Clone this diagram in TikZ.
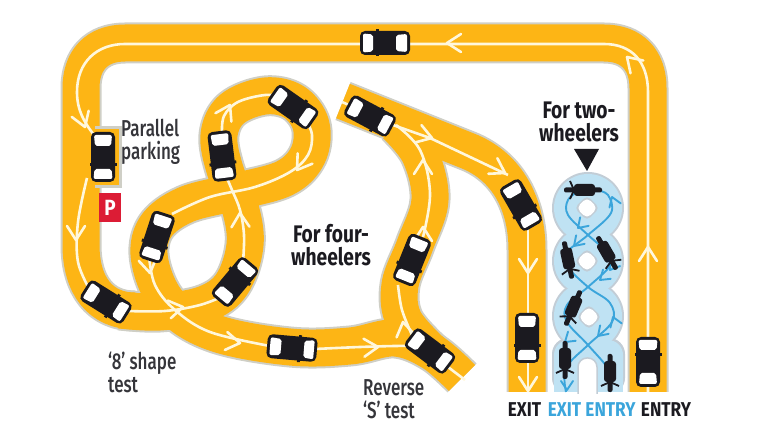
\documentclass[tikz,border=0pt]{standalone}
\usepackage{fontspec}
\usepackage{xcolor}
\setmainfont{Fira Sans}
\newfontfamily\labelfont[FakeStretch=0.74]{Fira Sans Medium}
\newfontfamily\headfont[FakeStretch=0.8,BoldFont={Fira Sans Bold}]{Fira Sans}
\newfontfamily\gatefont[FakeStretch=0.86,BoldFont={Fira Sans Bold}]{Fira Sans}
\definecolor{roadyellow}{HTML}{FDB515}
\definecolor{roadedge}{HTML}{CFCFC6}
\definecolor{laneline}{HTML}{FFF7DC}
\definecolor{bikefill}{HTML}{BFE2F3}
\definecolor{bikeedge}{HTML}{C2CDD6}
\definecolor{bikeline}{HTML}{3BA5DB}
\definecolor{carblack}{HTML}{1B1A20}
\definecolor{inkgray}{HTML}{35353A}
\definecolor{signred}{HTML}{DC1C35}
\tikzset{
	lane/.style={draw=laneline,line width=2.6pt,line join=round},
	bluelane/.style={draw=bikeline,line width=1.9pt,line join=round},
	caption/.style={inkgray,font=\labelfont\fontsize{23}{23}\selectfont,align=left,inner sep=0pt,anchor=north west},
	bighead/.style={carblack,font=\headfont\bfseries\fontsize{24}{23}\selectfont,align=center,inner sep=0pt},
	gatelabel/.style={font=\gatefont\bfseries\fontsize{20}{20}\selectfont,inner sep=0pt},
	chev/.pic={\draw[lane,line cap=round] (-14,-9) -- (0,0) -- (-14,9);},
	bluechev/.pic={\draw[bluelane,line cap=round] (-9,-6) -- (0,0) -- (-9,6);},
	car/.pic={
		\fill[carblack,rounded corners=5pt] (-25,-12) rectangle (25,12);
		\fill[carblack] (6,-13.5) rectangle (9,13.5);
		\fill[white,rounded corners=2pt] (-22,-9) -- (-11,-8) -- (-11,8) -- (-22,9) -- cycle;
		\fill[white,rounded corners=2pt] (12,-8.5) -- (22,-9.5) -- (22,9.5) -- (12,8.5) -- cycle;
	},
	bike/.pic={
		\fill[carblack,rounded corners=2pt] (-19,-2.5) rectangle (19,2.5);
		\fill[carblack,rounded corners=3pt] (-12,-6) rectangle (9,6);
		\draw[carblack,line width=1.8pt] (13,-9) -- (9,0) -- (13,9);
	}
}

\begin{document}
\begin{tikzpicture}[x=1pt,y=-1pt]
	\useasboundingbox (0,0) rectangle (764,435);

	% roads, edge colour first and yellow over it
	\foreach \wd/\col in {41/roadedge,37/roadyellow}{
		\draw[\col,line width=\wd pt,line join=round] (648,392) -- (648,88) .. controls (648,60) and (632,43) .. (604,43) -- (125,43) .. controls (97,43) and (81,60) .. (81,88) -- (81,245) .. controls (81,285) and (100,311) .. (135,311);
		\draw[\col,line width=\wd pt,line join=round] plot[smooth,tension=.6] coordinates {(120,310) (160,312) (205,304) (232,284) (245,245) (240,207) (225,170) (219,135) (232,109) (265,96) (294,102) (311,125) (308,155) (285,178) (235,192) (185,205) (155,228) (150,262) (170,305) (215,333) (290,347) (350,346) (395,338) (432,352) (462,378)};
		\draw[\col,line width=\wd pt,line join=round] (343,101) -- (468,151) .. controls (508,167) and (527,205) .. (527,250) -- (527,392);
		\draw[\col,line width=\wd pt,line join=round] plot[smooth,tension=.6] coordinates {(396,125) (420,155) (430,200) (415,245) (400,285) (404,320) (432,352)};
	}
	% parking bay
	\fill[roadedge] (90,126) rectangle (122,188);
	\fill[roadyellow] (90,129) rectangle (119,185);
	\fill[roadyellow] (63,120) rectangle (95,200);

	% white lane lines
	\draw[lane] (648,392) -- (648,92) .. controls (648,62) and (632,44) .. (604,44) -- (125,44) .. controls (97,44) and (77,62) .. (77,92) .. controls (77,110) and (84,122) .. (94,135);
	\draw[lane] plot[smooth,tension=.6] coordinates {(87,178) (78,222) (78,262) (91,292)};
	\draw[lane] plot[smooth,tension=.6] coordinates {(128,311) (165,311) (200,305) (226,295)};
	\draw[lane] plot[smooth,tension=.6] coordinates {(243,262) (244,235) (240,210) (232,190) (226,176)};
	\draw[lane] plot[smooth,tension=.6] coordinates {(222,134) (224,116) (238,102) (265,95) (282,97)};
	\draw[lane] plot[smooth,tension=.6] coordinates {(306,120) (312,135) (308,155) (290,172) (255,187) (210,197) (172,214)};
	\draw[lane] plot[smooth,tension=.6] coordinates {(149,256) (155,285) (175,310) (210,332) (270,346)};
	\draw[lane] plot[smooth,tension=.6] coordinates {(315,349) (360,347) (395,346) (412,346)};
	\draw[lane] (448,367) -- (465,380);
	\draw[lane] plot[smooth,tension=.6] coordinates {(412,335) (402,310) (398,285)};
	\draw[lane] plot[smooth,tension=.6] coordinates {(423,237) (430,193) (420,150) (396,125)};
	\draw[lane] (393,125) -- (430,138) -- (508,175);
	\draw[lane] (342,102) -- (356,108);
	\draw[lane] (528,225) -- (528,392);

	\foreach \x/\y/\a in {447/43/180,627/57/135,648/247/90,85/127/-70,76/240/-90,183/307/10,240/213/92,230/105/62,297/170/-125,150/273/-80,240/343/-8,378/347/3,403/322/100,423/227/90,423/160/90,432/138/-18,505/173/-30,528/273/-90,528/391/-90}
		\pic[rotate=\a] at (\x,\y) {chev};

	% two wheeler track
	\fill[bikeedge,rounded corners=16pt] (552,394) -- (552,338) -- (625,338) -- (625,394) -- cycle;
	\foreach \cy in {208,261,316}
		\fill[bikeedge] (588,\cy) circle (36);
	\fill[white] (550,392) rectangle (627,396);
	\fill[bikefill,rounded corners=15pt] (554,392) -- (554,340) -- (623,340) -- (623,392) -- cycle;
	\fill[bikefill] (554,375) rectangle (623,392);
	\foreach \cy in {208,261,316}
		\fill[bikefill] (588,\cy) circle (34);
	\draw[bikeedge,fill=white,line width=1.5pt,rounded corners=9pt] (578,394) -- (578,358) -- (597,358) -- (597,394);
	\foreach \cx/\cy in {587/208,587/261,589/317}{
		\fill[bikeedge,rotate around={45:(\cx,\cy)},rounded corners=5pt] (\cx-9,\cy-9) rectangle (\cx+9,\cy+9);
		\fill[white,rotate around={45:(\cx,\cy)},rounded corners=5pt] (\cx-7.5,\cy-7.5) rectangle (\cx+7.5,\cy+7.5);
	}
	\draw[bluelane] plot[smooth,tension=.6] coordinates {(610,392) (610,372) (588,345) (567,322) (567,305) (588,287) (610,266) (609,254) (588,235) (568,215) (568,200) (580,190)};
	\draw[bluelane] plot[smooth,tension=.6] coordinates {(566,392) (566,368) (588,345) (612,322) (610,303) (588,287) (566,265) (567,252) (588,235) (611,213) (608,195) (596,190)};
	\foreach \x/\y/\a in {567/390/-90,612/197/110,578/228/-135,574/246/-135,610/270/-125,600/280/-140,613/317/110,598/336/-135,565/342/-140}
		\pic[rotate=\a] at (\x,\y) {bluechev};
	\foreach \x/\y/\a in {583/190/180,568/260/-78,607/253/-60,573/308/-113,565/360/-90,610/373/-90}
		\pic[rotate=\a] at (\x,\y) {bike};

	% cars
	\foreach \x/\y/\a in {385/43/180,103/157/-90,106/302/-32,235/282/50,222/156/-83,293/107/-35,157/237/-108,292/348/-5,370/116/-28,412/260/-112,430/351/-37,521/205/-60,527/338/-90,648/362/90}
		\pic[rotate=\a] at (\x,\y) {car};

	% parking sign
	\node[fill=signred,minimum width=22pt,minimum height=29pt,inner sep=0pt,text=white,font=\gatefont\bfseries\fontsize{22}{22}\selectfont] (psign) at (110,207.5) {P};
	\fill[carblack] (574,149) -- (599,149) -- (587,171) -- cycle;

	% labels
	\node[caption] (parallel) at (121,119) {Parallel\\parking};
	\node[caption] (eight) at (108,352) {‘8’ shape\\test};
	\node[caption] (reverse) at (363,379) {Reverse\\‘S’ test};
	\node[bighead] (four) at (331,245) {For four-\\wheelers};
	\node[bighead] (two) at (579,122) {For two-\\wheelers};
	\node[gatelabel,carblack] (exitcar) at (524.5,410) {EXIT};
	\node[gatelabel,bikeline] (exitbike) at (564.5,410) {EXIT};
	\node[gatelabel,bikeline] (entrybike) at (610.5,410) {ENTRY};
	\node[gatelabel,carblack] (entrycar) at (666,410) {ENTRY};
\end{tikzpicture}
\end{document}
